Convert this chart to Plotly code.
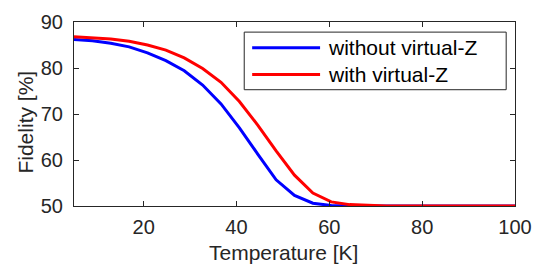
import plotly.graph_objects as go

temperature = [5.0, 8.96, 12.92, 16.88, 20.83, 24.79, 28.75, 32.71, 36.67, 40.63,
               44.58, 48.54, 52.5, 56.46, 60.42, 64.38, 68.33, 72.29, 76.25, 80.21,
               84.17, 88.13, 92.08, 96.04, 100.0]
fid_without = [86.2, 85.9, 85.4, 84.6, 83.3, 81.6, 79.4, 76.3, 72.2, 67.0,
               61.3, 55.7, 52.3, 50.6, 50.1, 50.0, 50.0, 50.0, 50.0, 50.0,
               50.0, 50.0, 50.0, 50.0, 50.0]
fid_with = [86.8, 86.6, 86.3, 85.8, 85.0, 83.9, 82.2, 79.9, 76.9, 72.7,
            67.6, 62.0, 56.7, 52.8, 50.9, 50.3, 50.1, 50.0, 50.0, 50.0,
            50.0, 50.0, 50.0, 50.0, 50.0]
series_names = ["without virtual-Z", "with virtual-Z"]
series_colors = ["#0000FF", "#FF0000"]
x_ticks = [20, 40, 60, 80, 100]
y_ticks = [50, 60, 70, 80, 90]

FONT = "Liberation Sans, Arial, sans-serif"
AX = "#262626"

fig = go.Figure()
for name, vals, col in zip(series_names, [fid_without, fid_with], series_colors):
    fig.add_trace(go.Scatter(x=temperature, y=vals, mode="lines", name=name,
                             line=dict(color=col, width=3), showlegend=False))

# custom legend (MATLAB style, long line samples)
fig.add_shape(type="rect", xref="paper", yref="paper", x0=0.386, x1=0.98, y0=0.632, y1=0.945,
              line=dict(color=AX, width=1), fillcolor="white", layer="above")
leg_y = [0.86, 0.714]
for name, col, yy in zip(series_names, series_colors, leg_y):
    fig.add_shape(type="line", xref="paper", yref="paper", x0=0.404, x1=0.558, y0=yy, y1=yy,
                  line=dict(color=col, width=3), layer="above")
    fig.add_annotation(xref="paper", yref="paper", x=0.571, y=yy, text=name, showarrow=False,
                       xanchor="left", yanchor="middle", font=dict(family=FONT, size=21, color="#000000"))

# axis titles
fig.add_annotation(xref="paper", yref="paper", x=0.4756, y=-0.25, text="Temperature [K]",
                   showarrow=False, xanchor="center", yanchor="middle",
                   font=dict(family=FONT, size=21, color=AX))
fig.add_annotation(xref="paper", yref="paper", x=-0.111, y=0.4538, text="Fidelity [%]",
                   showarrow=False, xanchor="center", yanchor="middle", textangle=-90,
                   font=dict(family=FONT, size=21, color=AX))

axis_common = dict(showline=True, linecolor=AX, linewidth=1, mirror="allticks",
                   ticks="inside", ticklen=5, tickcolor=AX, tickwidth=1,
                   showgrid=False, zeroline=False,
                   tickfont=dict(family=FONT, size=20, color=AX))
fig.update_xaxes(range=[5, 100], tickvals=x_ticks, ticklabelstandoff=3, **axis_common)
fig.update_yaxes(range=[50, 90], tickvals=y_ticks, ticklabelstandoff=6, **axis_common)

fig.update_layout(width=543, height=270, margin=dict(l=74, r=19, t=11, b=64),
                  plot_bgcolor="white", paper_bgcolor="white", showlegend=False,
                  font=dict(family=FONT, color=AX))
fig.write_html("out.html", config={"displayModeBar": False},
               post_script="document.body.style.margin='0px';document.body.style.overflow='hidden';")
